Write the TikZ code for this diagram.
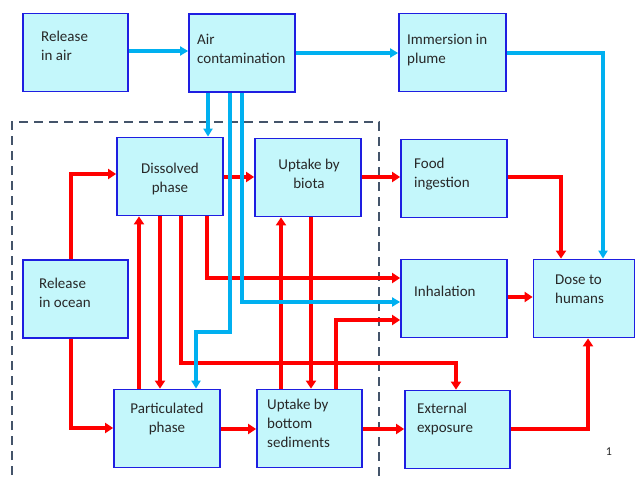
\documentclass[tikz,border=0pt]{standalone}
\usepackage{fontspec}
\setmainfont{Carlito}
\usetikzlibrary{arrows.meta}
\definecolor{boxfill}{RGB}{196,247,251}
\definecolor{boxline}{RGB}{30,30,225}
\definecolor{bluearr}{RGB}{0,176,240}
\definecolor{redarr}{RGB}{255,0,0}
\definecolor{dashcol}{RGB}{68,84,106}
\definecolor{txtcol}{RGB}{40,40,40}
\tikzset{
  bx/.style={draw=boxline, fill=boxfill, line width=1.8pt, minimum width=105pt, minimum height=78pt, inner sep=0pt},
  txt/.style={inner sep=0pt, text=txtcol, font=\fontsize{15}{19}\selectfont},
  rarr/.style={draw=redarr, line width=3.8pt, -{Triangle[length=8pt,width=10pt]}},
  barr/.style={draw=bluearr, line width=3.4pt, -{Triangle[length=8pt,width=9pt]}},
}
\begin{document}
\begin{tikzpicture}[x=1pt,y=-1pt]
\useasboundingbox (0,0) rectangle (636,481);
\fill[white] (0,0) rectangle (636,481);
% dashed region
\begin{scope}
\clip (0,0) rectangle (636,481);
\draw[dashcol, line width=2.4pt, dash pattern=on 9pt off 6pt] (12,490) -- (12,122) -- (379,122) -- (379,490);
\end{scope}
% boxes
\node[bx] (rair) at (75.5,52.5) {};
\node[bx, minimum width=106pt] (aircont) at (242,53) {};
\node[bx, minimum width=107pt] (immer) at (452.5,52.5) {};
\node[bx, minimum width=106pt] (dis) at (170,176.5) {};
\node[bx, minimum width=106pt] (biota) at (308,177.5) {};
\node[bx, minimum width=106pt] (food) at (454,178.5) {};
\node[bx] (rocean) at (75.5,299) {};
\node[bx, minimum width=106pt] (inh) at (454,298.5) {};
\node[bx, minimum width=101pt] (dose) at (584,298.5) {};
\node[bx, minimum width=106pt] (part) at (167,428.5) {};
\node[bx] (sed) at (309.5,428.5) {};
\node[bx] (ext) at (457.5,429.5) {};
% texts (anchor = baseline of the last line)
\node[txt, anchor=base west, align=left] (trair) at (41,61) {Release\\in air};
\node[txt, anchor=base west, align=left] (taircont) at (197,64) {Air\\contamination};
\node[txt, anchor=base west, align=left] (timmer) at (407,64) {Immersion in\\plume};
\node[txt, anchor=base, align=center] (tdis) at (170,192) {Dissolved\\phase};
\node[txt, anchor=base, align=center] (tbiota) at (309,188) {Uptake by\\biota};
\node[txt, anchor=base west, align=left] (tfood) at (414,187) {Food\\ingestion};
\node[txt, anchor=base west, align=left] (trocean) at (39,307) {Release\\in ocean};
\node[txt, anchor=base west, align=left] (tinh) at (414,296) {Inhalation};
\node[txt, anchor=base west, align=left] (tdose) at (555,303) {Dose to\\humans};
\node[txt, anchor=base, align=center] (tpart) at (167,432) {Particulated\\phase};
\node[txt, anchor=base west, align=left] (tsed) at (267,447) {Uptake by\\bottom\\sediments};
\node[txt, anchor=base west, align=left] (text) at (417,432) {External\\exposure};
\node[txt, anchor=base, font=\fontsize{12}{14}\selectfont] (pnum) at (609,455) {1};
% lanes
\coordinate (xA) at (71,0);
\coordinate (xB) at (139,0);
\coordinate (xC) at (160,0);
\coordinate (xD) at (181,0);
\coordinate (xE) at (207,0);
\coordinate (xE2) at (208,0);
\coordinate (xF) at (196,0);
\coordinate (xG) at (230,0);
\coordinate (xH) at (242,0);
\coordinate (xI) at (281,0);
\coordinate (xJ) at (311,0);
\coordinate (xK) at (336,0);
\coordinate (xL) at (456,0);
\coordinate (xM) at (561,0);
\coordinate (xN) at (603,0);
\coordinate (xO) at (588,0);
\coordinate (yA) at (0,174);
\coordinate (yB) at (0,428);
\coordinate (yC) at (0,177);
\coordinate (yD) at (0,297);
\coordinate (yE) at (0,429);
\coordinate (yF) at (0,363);
\coordinate (yG) at (0,278);
\coordinate (yH) at (0,320);
\coordinate (y51) at (0,51);
\coordinate (y53) at (0,53);
\coordinate (y302) at (0,302);
\coordinate (y332) at (0,332);
% red connectors
\draw[rarr] (rocean.north -| xA) |- (dis.west |- yA);
\draw[rarr] (rocean.south -| xA) |- (part.west |- yB);
\draw[rarr] (dis.east |- yC) -- (biota.west |- yC);
\draw[rarr] (biota.east |- yC) -- (food.west |- yC);
\draw[rarr] (food.east |- yC) -| (dose.north -| xM);
\draw[rarr] (inh.east |- yD) -- (dose.west |- yD);
\draw[rarr] (ext.east |- yE) -| (dose.south -| xO);
\draw[rarr] (part.east |- yE) -- (sed.west |- yE);
\draw[rarr] (sed.east |- yE) -- (ext.west |- yE);
\draw[rarr] (part.north -| xB) -- (dis.south -| xB);
\draw[rarr] (dis.south -| xC) -- (part.north -| xC);
\draw[rarr] (dis.south -| xD) |- (xL |- yF) -- (ext.north -| xL);
\draw[rarr] (dis.south -| xE) |- (inh.west |- yG);
\draw[rarr] (sed.north -| xI) -- (biota.south -| xI);
\draw[rarr] (biota.south -| xJ) -- (sed.north -| xJ);
\draw[rarr] (sed.north -| xK) |- (inh.west |- yH);
% blue connectors
\draw[barr] (rair.east |- y51) -- (aircont.west |- y51);
\draw[barr] (aircont.east |- y53) -- (immer.west |- y53);
\draw[barr] (immer.east |- y53) -| (dose.north -| xN);
\draw[barr] (aircont.south -| xE2) -- (dis.north -| xE2);
\draw[barr] (aircont.south -| xG) |- (xF |- y332) -- (part.north -| xF);
\draw[barr] (aircont.south -| xH) |- (inh.west |- y302);
\end{tikzpicture}
\end{document}
